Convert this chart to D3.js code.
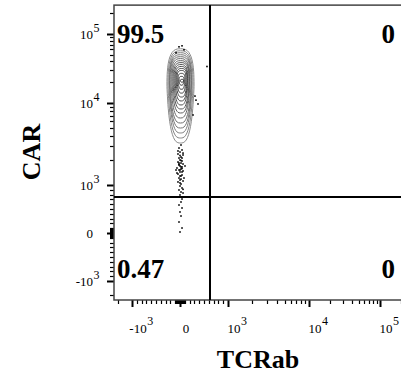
<!DOCTYPE html>
<html>
<head>
<meta charset="utf-8">
<script src="https://cdn.jsdelivr.net/npm/d3@7"></script>
<style>
  body { margin: 0; background: #fff; }
  svg { display: block; }
  text { font-family: 'Liberation Serif', 'Times New Roman', serif; fill: #000; }
</style>
</head>
<body>
<svg id="chart" width="401" height="373"></svg>
<script>
// quadrant frequencies (%)
const quadrantUL = '99.5';
const quadrantUR = '0';
const quadrantLL = '0.47';
const quadrantLR = '0';

// quadrant gate
const gateTCRab = 625;
const gateCAR = 750;

// labelled decades
const majorTicks = [-1000, 0, 1000, 10000, 100000];
const majorBase = ['-10', '0', '10', '10', '10'];
const majorExp = ['3', '', '3', '4', '5'];

// contour levels, outer to inner (TCRab left/right, CAR top/bottom)
const contourLeft = [-271, -250, -229, -219, -208, -188, -167, -146, -125, -104, -83, -63, -42, -21, 10];
const contourRight = [292, 271, 250, 240, 229, 208, 198, 188, 167, 156, 146, 125, 104, 83, 73];
const contourTop = [61100, 57100, 53600, 50100, 46900, 44000, 41100, 38500, 36100, 33800, 31600, 29600, 26900, 24300, 22000];
const contourBottom = [3250, 3740, 4310, 4950, 5700, 6560, 7550, 8450, 9460, 10700, 12200, 13900, 15800, 18100, 20000];

// events outside the outer contour
const eventTCRab = [-21, 42, 83, -83, 333, 375, 312, 562, 271,
  21, -21, 42, 0, -42, 63, 21, -21, 0, 42, -42, 21, 63, -21, 0, 42, -63, 21, -21, 63, 0,
  -42, 42, 21, -21, 0, 63, -42, 21, 0, 42, -21, 21, 63, 0, -42, 42, 21, -21, 42, 0, 21,
  -21, 42, 0, 83, -83, 104, 42, -21, 21, 0, 42, 0,
  -42, 63, 0, 21, -21, 42, -63, 21, 0, 63];
const eventCAR = [65200, 67400, 59000, 53500, 11000, 9730, 12600, 33800, 7140,
  3076, 2825, 2673, 2524, 2388, 2323, 2193, 2133, 2018, 1963, 1906, 1853, 1803, 1754, 1706, 1660, 1611, 1567, 1524, 1483, 1442,
  1361, 1324, 1288, 1216, 1151, 1119, 1089, 1028, 979, 938, 896, 854, 833, 792, 750, 708, 646, 583, 521, 438, 354,
  229, 104, 21, 1216, 1524, 1706, 2133, 1853, 1660, 1524, 1442, 1288,
  2600, 2450, 2290, 1990, 1780, 1590, 1400, 1180, 1060, 910];

const maxValue = 262144;

// linear around zero, log above 10^3
function biex(v) {
  const a = Math.abs(v);
  if (a <= 1000) return v / 1000;
  return Math.sign(v) * (1 + Math.log10(a / 1000));
}

const xT = d3.scaleLinear().domain([-1, 0, 1, 2, 3]).range([132, 180, 228, 309, 380]);
const yT = d3.scaleLinear().domain([-1, 0, 1, 2, 3]).range([281, 233, 185, 103, 34]);
const x = v => xT(biex(v));
const y = v => yT(biex(v));

const svg = d3.select('#chart');

const plotLeft = 114, plotBottom = 300;
const plotRight = x(maxValue), plotTop = y(maxValue);

// ticks: every m*10^k
const tickValues = [0];
for (let k = 1; k <= 5; k++) {
  for (let m = 1; m <= 9; m++) {
    const v = m * Math.pow(10, k);
    if (v <= maxValue) tickValues.push(v);
    if (-v >= -2000) tickValues.push(-v);
  }
}
const isMajor = v => majorTicks.indexOf(v) >= 0;

const tickGroup = svg.append('g').attr('stroke', '#000');

tickGroup.selectAll('line.xtick')
  .data(tickValues)
  .enter()
  .append('line')
  .attr('class', 'xtick')
  .attr('x1', d => Math.round(x(d)) + 0.5)
  .attr('x2', d => Math.round(x(d)) + 0.5)
  .attr('y1', plotBottom)
  .attr('y2', d => plotBottom + (isMajor(d) ? 7 : 4))
  .attr('stroke-width', d => isMajor(d) ? 2 : 1.2);

tickGroup.selectAll('line.ytick')
  .data(tickValues)
  .enter()
  .append('line')
  .attr('class', 'ytick')
  .attr('x1', plotLeft)
  .attr('x2', d => plotLeft - (isMajor(d) ? 7 : 4))
  .attr('y1', d => Math.round(y(d)) + 0.5)
  .attr('y2', d => Math.round(y(d)) + 0.5)
  .attr('stroke-width', d => isMajor(d) ? 2 : 1.2);

// tick labels
const labelSize = 13, expSize = 12;

majorTicks.forEach((v, i) => {
  // x axis
  const cx = x(v) + 6;
  const base = svg.append('text')
    .attr('x', cx)
    .attr('y', 333)
    .attr('text-anchor', 'middle')
    .style('font-size', labelSize + 'px')
    .text(majorBase[i]);
  if (majorExp[i]) {
    const w = base.node().getComputedTextLength();
    svg.append('text')
      .attr('x', cx + w / 2 + 0.5)
      .attr('y', 325)
      .style('font-size', expSize + 'px')
      .text(majorExp[i]);
  }

  // y axis
  const ty = y(v) + 4.5;
  svg.append('text')
    .attr('x', 93)
    .attr('y', ty)
    .attr('text-anchor', 'end')
    .style('font-size', labelSize + 'px')
    .text(majorBase[i]);
  if (majorExp[i]) {
    svg.append('text')
      .attr('x', 93.5)
      .attr('y', ty - 7)
      .style('font-size', expSize + 'px')
      .text(majorExp[i]);
  }
});

// contours: rounded, box-like ovals
const contourLine = d3.line().curve(d3.curveCatmullRomClosed);
const contourColor = d3.scaleLinear().domain([0, contourLeft.length - 1]).range(['#8c8c8c', '#262626']);
const spow = (v, p) => Math.sign(v) * Math.pow(Math.abs(v), p);

const contours = contourLeft.map((l, i) => {
  const xl = x(l), xr = x(contourRight[i]);
  const yt = y(contourTop[i]), yb = y(contourBottom[i]);
  const cx = (xl + xr) / 2, hw = (xr - xl) / 2;
  const ym = yt + 0.4 * (yb - yt);
  const pts = d3.range(48).map(j => {
    const a = j / 48 * 2 * Math.PI;
    const s = spow(Math.sin(a), 0.7), c = spow(Math.cos(a), 0.7);
    const px = cx + hw * s * (c < 0 ? 1 + 0.18 * c : 1);
    const py = c >= 0 ? ym - c * (ym - yt) : ym - c * (yb - ym);
    return [px, py];
  });
  return {i: i, pts: pts};
});

svg.append('g')
  .selectAll('path')
  .data(contours)
  .enter()
  .append('path')
  .attr('d', d => contourLine(d.pts))
  .attr('fill', 'none')
  .attr('stroke', d => contourColor(d.i))
  .attr('stroke-width', 1);

// outlying events
svg.append('g')
  .selectAll('rect')
  .data(eventTCRab.map((v, i) => [v, eventCAR[i]]))
  .enter()
  .append('rect')
  .attr('x', d => x(d[0]) - 0.8)
  .attr('y', d => y(d[1]) - 0.8)
  .attr('width', 1.6)
  .attr('height', 1.6)
  .attr('fill', '#000');

// frame
svg.append('rect')
  .attr('x', plotLeft)
  .attr('y', plotTop)
  .attr('width', plotRight - plotLeft)
  .attr('height', plotBottom - plotTop)
  .attr('fill', 'none')
  .attr('stroke', '#444')
  .attr('stroke-width', 1.5);

// quadrant gate
svg.append('line')
  .attr('x1', x(gateTCRab)).attr('x2', x(gateTCRab))
  .attr('y1', plotTop).attr('y2', plotBottom)
  .attr('stroke', '#000').attr('stroke-width', 2);
svg.append('line')
  .attr('x1', plotLeft).attr('x2', plotRight)
  .attr('y1', y(gateCAR)).attr('y2', y(gateCAR))
  .attr('stroke', '#000').attr('stroke-width', 2);

// quadrant numbers
const qStyle = sel => sel.style('font-size', '27px').style('font-weight', 'bold');
svg.append('text').attr('x', 117).attr('y', 43).text(quadrantUL).call(qStyle);
svg.append('text').attr('x', 395).attr('y', 43).attr('text-anchor', 'end').text(quadrantUR).call(qStyle);
svg.append('text').attr('x', 117).attr('y', 278).text(quadrantLL).call(qStyle);
svg.append('text').attr('x', 395).attr('y', 278).attr('text-anchor', 'end').text(quadrantLR).call(qStyle);

// axis titles
svg.append('text')
  .attr('transform', 'translate(40,152) rotate(-90)')
  .attr('text-anchor', 'middle')
  .style('font-size', '26px')
  .style('font-weight', 'bold')
  .text('CAR');

svg.append('text')
  .attr('x', 258)
  .attr('y', 368)
  .attr('text-anchor', 'middle')
  .style('font-size', '26px')
  .style('font-weight', 'bold')
  .text('TCRab');
</script>
</body>
</html>
